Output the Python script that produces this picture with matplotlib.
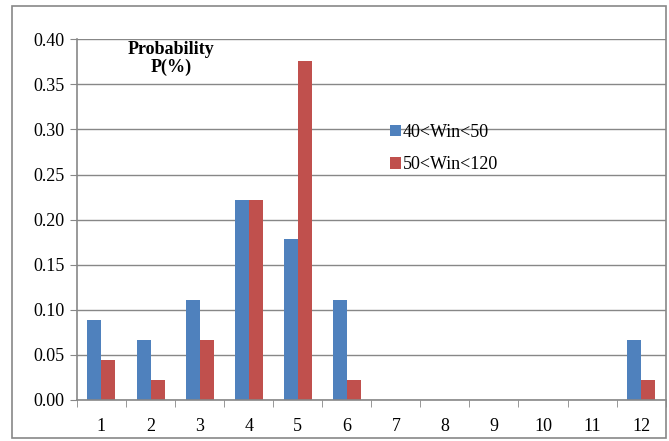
import matplotlib.pyplot as plt
import numpy as np
from matplotlib.patches import Rectangle

plt.rcParams["font.family"] = ["Liberation Serif", "DejaVu Serif"]

categories = ["1", "2", "3", "4", "5", "6", "7", "8", "9", "10", "11", "12"]
win_40_50 = [0.089, 0.067, 0.111, 0.222, 0.178, 0.111, 0, 0, 0, 0, 0, 0.067]
win_50_120 = [0.044, 0.022, 0.067, 0.222, 0.376, 0.022, 0, 0, 0, 0, 0, 0.022]
y_ticks = [0.00, 0.05, 0.10, 0.15, 0.20, 0.25, 0.30, 0.35, 0.40]

BLUE = "#4F81BD"
RED = "#C0504D"
GRID = "#878787"

fig = plt.figure(figsize=(6.69, 4.41), dpi=100)
ax = fig.add_axes([0.115, 0.093, 0.88, 0.818])

x = np.arange(len(categories))
width = 0.285
ax.bar(x - width / 2, win_40_50, width, color=BLUE, label="40<Win<50")
ax.bar(x + width / 2, win_50_120, width, color=RED, label="50<Win<120")

ax.set_xlim(-0.5, len(categories) - 0.5)
ax.set_ylim(0, 0.40)
ax.set_yticks(y_ticks)
ax.set_yticklabels([f"{v:.2f}" for v in y_ticks], fontsize=13)
ax.set_xticks(x)
ax.set_xticklabels(categories, fontsize=13)
ax.set_xticks(np.arange(-0.5, len(categories)), minor=True)
ax.tick_params(axis="x", which="major", length=0, pad=13)
ax.tick_params(axis="x", which="minor", length=5, color=GRID, direction="out")
ax.tick_params(axis="y", length=5, color=GRID, direction="out", pad=4)

ax.grid(axis="y", color=GRID, linewidth=1)
ax.set_axisbelow(True)
for side in ["top", "right"]:
    ax.spines[side].set_visible(False)
for side in ["left", "bottom"]:
    ax.spines[side].set_color(GRID)
    ax.spines[side].set_linewidth(1.2)

ax.text(0.16, 0.995, "Probability\nP(%)", transform=ax.transAxes,
        ha="center", va="top", fontsize=13, fontweight="bold", linespacing=1.05)

ax.legend(loc="upper left", bbox_to_anchor=(0.516, 0.79), frameon=False,
          fontsize=13, handlelength=0.6, handleheight=0.6, handletextpad=0.1,
          labelspacing=0.85, borderpad=0)

# Outer chart border
fig.patches.append(Rectangle((0.018, 0.007), 0.978, 0.979, transform=fig.transFigure,
                             fill=False, edgecolor=GRID, linewidth=1.2))

plt.savefig("out.png", dpi=100)
